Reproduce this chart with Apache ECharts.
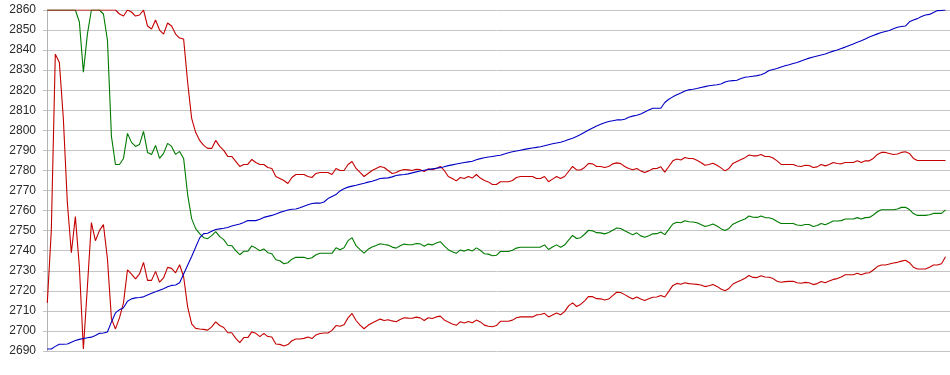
<!DOCTYPE html>
<html><head><meta charset="utf-8">
<script src="https://cdn.jsdelivr.net/npm/echarts@6/dist/echarts.min.js"></script>
<style>html,body{margin:0;padding:0;background:#fff}#c{width:950px;height:375px}</style>
</head><body><div id="c"></div>
<script>
const yMin = 2690, yMax = 2860, yStep = 10;

const blue = [
2691,2691,2692.3,2693.4,2693.4,2693.5,2694.4,2695.2,2695.8,2696.2,
2696.6,2696.9,2697.7,2698.8,2699,2699.5,2704.5,2709,2710.6,2711.6,
2714.8,2716,2716.5,2716.7,2717,2717.9,2718.8,2719.5,2720.3,2721,
2722,2722.7,2722.9,2724,2728.4,2732.8,2737.1,2741.7,2746.4,2748.5,
2748.7,2749.7,2750.6,2750.9,2751.2,2751.6,2752.3,2752.8,2753.3,2754.1,
2755,2755,2755,2755.7,2756.6,2757.1,2757.6,2758.3,2759.1,2759.7,
2760.3,2760.7,2760.8,2761.4,2762.2,2762.9,2763.5,2763.7,2763.7,2764.3,
2766,2767,2768,2769.8,2770.9,2771.7,2772.2,2772.6,2773.1,2773.6,
2774.2,2774.6,2775.3,2776,2776.2,2776.3,2776.8,2777.5,2777.8,2778,
2778.3,2778.8,2779.3,2779.7,2780.1,2780.5,2780.8,2781.1,2781.4,2781.9,
2782.4,2782.8,2783.2,2783.6,2784,2784.3,2784.6,2785.3,2785.9,2786.3,
2786.7,2787,2787.3,2787.6,2788.2,2788.8,2789.3,2789.7,2790.1,2790.5,
2790.9,2791.2,2791.5,2791.8,2792.3,2792.8,2793.3,2793.7,2794.1,2794.7,
2795.4,2796.1,2796.9,2797.9,2799.1,2800.2,2801.2,2802.2,2803,2803.8,
2804.4,2804.8,2805.2,2805.2,2805.5,2806.5,2807.1,2807.5,2808.2,2809.2,
2810.1,2811,2811,2811,2813.9,2815.5,2816.7,2817.7,2818.6,2819.6,
2820.2,2820.5,2820.9,2821.4,2821.8,2822.2,2822.5,2822.7,2823.1,2824.1,
2824.6,2824.8,2825,2825.8,2826.5,2826.7,2827,2827.3,2827.7,2828.6,
2829.8,2830.3,2830.8,2831.6,2832.2,2832.7,2833.3,2833.8,2834.6,2835.3,
2836,2836.6,2837.1,2837.6,2838.1,2838.8,2839.5,2840.1,2840.8,2841.5,
2842.3,2843.1,2843.9,2844.7,2845.6,2846.5,2847.3,2848.1,2848.8,2849.3,
2849.8,2850.6,2851.4,2851.8,2852,2854.1,2855,2855.7,2856.8,2857.5,
2857.8,2858.8,2859.7,2859.8,2860
];

const upperBand = [
2860,2860,2860,2860,2860,2860,2860,2860,2860,2860,
2860,2860,2860,2860,2860,2860,2860,2860,2858,2857,
2860,2859,2857,2857.5,2860,2852,2850.5,2855,2850,2848,
2853.5,2852,2848,2846,2845.5,2824,2806,2799,2795,2792.5,
2791,2791,2795,2792,2790,2787,2787,2784.5,2782,2783,
2783,2785.5,2784,2783,2783,2781.5,2781,2777,2776,2775,
2773.5,2776.5,2778,2778,2778,2777,2776.5,2778.5,2779,2779,
2779,2778,2781,2780,2780,2783,2784.5,2781,2779,2777,
2778.5,2780,2781,2782,2781.5,2780,2778.5,2779,2780,2780.5,
2780.3,2780,2780.6,2780.4,2779.5,2780.8,2780.4,2781,2782,2780,
2777,2776,2774.8,2776.5,2776,2777,2776.2,2778,2776.2,2775,
2774.3,2773,2773,2774.4,2774.4,2774.4,2775,2776.5,2777,2777,
2777,2777,2776,2776,2777,2774.4,2775.7,2777,2776,2777,
2779.5,2782,2780.3,2780.2,2781.5,2783.5,2783.3,2782,2782,2781.5,
2782,2783.3,2783.8,2783.4,2782,2781,2780.4,2781,2779.8,2779,
2779.8,2780.9,2781,2781.8,2779.2,2782,2784.8,2785.7,2785.2,2786.5,
2786,2786,2785.1,2784,2782.6,2783,2783.6,2782.6,2781.3,2779.8,
2781,2783.5,2784.5,2785.5,2786.4,2787.7,2787.3,2787.3,2788,2787,
2787,2786.2,2784.8,2783,2783,2783,2783,2782.2,2782,2782.6,
2782.5,2781.5,2781.8,2783,2782.3,2783,2784,2783.5,2783.3,2784,
2784,2784,2784.8,2784,2784.8,2784.8,2786,2788,2789,2789,
2788.5,2788,2788.2,2789,2789.3,2788.5,2786,2785,2785,2785,
2785,2785,2785,2785,2785
];

const middleBand = [
2860,2860,2860,2860,2860,2860,2860,2860,2854,2829,
2848,2860,2860,2860,2858,2845,2797,2783,2783,2786,
2798.5,2794,2792,2793,2799.5,2789,2788,2792.5,2786,2788.5,
2793.5,2792,2788,2789.5,2786,2768,2756,2751,2748.5,2746.5,
2746,2747.5,2749.5,2747,2745.5,2742.7,2742.5,2740,2738,2739.7,
2739.7,2742.4,2741.3,2740,2740.9,2739,2738.5,2735.5,2735,2733.5,
2734,2735.8,2736.7,2736.7,2736.7,2736,2736.5,2738,2738.7,2738.7,
2738.7,2738.7,2741.5,2740.5,2741.5,2745,2746.5,2742.5,2740.5,2738.8,
2740.7,2741.8,2742.6,2743.5,2743.1,2742.8,2741.8,2741.3,2742.5,2743.3,
2743,2743,2743.6,2743.4,2742.2,2743.3,2742.9,2743.8,2744.5,2742.4,
2740.5,2739.5,2738.7,2740.4,2739.8,2740.6,2739.9,2741.4,2740.2,2738.5,
2738.3,2737.5,2737.7,2739.6,2739.6,2739.6,2740.2,2741.3,2741.7,2741.7,
2741.7,2741.7,2741.7,2741.8,2742.9,2740.6,2741.8,2742.9,2741.7,2742.8,
2745.3,2747.6,2746.1,2746.5,2748.2,2750.2,2749.9,2749,2748.9,2748.4,
2749.1,2750.2,2751.3,2751.1,2750,2749,2747.9,2748.9,2747.4,2746.7,
2747.5,2748.4,2748.5,2749.3,2748,2750.6,2753.3,2754.2,2753.9,2754.9,
2754.4,2754.3,2753.9,2753.1,2752.1,2752.6,2753.3,2752.3,2751,2750.1,
2751.1,2753.2,2754.2,2755.1,2755.8,2757.3,2756.7,2756.6,2757.3,2756.5,
2756.4,2755.8,2754.6,2753.6,2753.6,2753.6,2753.6,2752.8,2752.6,2753.1,
2753.1,2752.1,2752.6,2753.6,2752.9,2753.8,2754.8,2754.8,2755,2755.8,
2755.8,2755.8,2756.5,2755.8,2756.5,2756.6,2757.8,2759.4,2760.4,2760.4,
2760.4,2760.4,2760.8,2761.6,2761.7,2760.5,2758.5,2757.6,2757.6,2757.6,
2757.9,2758.6,2758.6,2758.6,2760.4
];

const lowerBand = [
2714,2750,2838,2834,2806,2764,2739,2757,2732,2691,
2722,2754,2745,2750,2753,2736,2706,2701,2706.5,2714,
2730.5,2728.3,2726,2728.4,2734.2,2725.2,2725.2,2729.7,2724.3,2726.4,
2731.7,2731.2,2729,2733,2727,2712,2703.5,2701.3,2701,2700.8,
2700.4,2702,2704.5,2702.7,2701.7,2699.1,2699.1,2696.3,2694.2,2696.7,
2696.7,2699.5,2698.8,2697.2,2698.8,2697.2,2697,2693.5,2693.3,2692.5,
2693.2,2695.1,2696,2696,2696.3,2697,2696.2,2698,2698.7,2699,
2699,2700.3,2702.7,2702.3,2703.1,2706.5,2708.7,2705.2,2702.9,2701.1,
2702.8,2704,2705,2705.9,2705.2,2705.6,2705,2704.6,2705.7,2706.6,
2706.4,2706.3,2706.9,2706.5,2705.2,2706.6,2706.2,2707,2707.4,2705.5,
2704.4,2703.5,2702.8,2704.6,2704,2704.7,2704.1,2705.4,2704.5,2702.9,
2702.3,2702.1,2702.7,2704.8,2704.8,2704.8,2705.4,2706.6,2707,2707,
2707,2707,2708,2708.2,2708.8,2707,2708,2708.9,2708.1,2709.6,
2712.5,2714,2712.2,2713.2,2715,2717.2,2717.1,2716.1,2716,2715.4,
2715.9,2717.6,2719.3,2719.2,2718.1,2716.9,2715.9,2716.9,2715.9,2715.2,
2716,2716.8,2716.9,2717.7,2716.9,2719.7,2722.7,2723.7,2723.3,2724,
2723.6,2723.4,2723.2,2722.9,2722.1,2722.5,2723.2,2722.2,2720.9,2720,
2721.2,2723.4,2724.4,2725.3,2726.3,2727.6,2726.7,2726.6,2727.5,2726.9,
2726.8,2726.1,2724.8,2724.3,2724.6,2724.7,2724.8,2724,2723.8,2724.2,
2724,2723.1,2723.6,2724.6,2724,2724.9,2725.7,2726.1,2726.9,2728,
2728,2728,2728.8,2728,2728.8,2729,2730.4,2732.1,2732.9,2732.9,
2733.4,2733.9,2734.2,2734.8,2735.2,2734,2731.8,2730.9,2730.9,2730.9,
2731.8,2732.9,2732.9,2733.5,2737
];

const idx = blue.map((_, i) => i);
const toPairs = arr => arr.map((v, i) => [idx[i], v]);

const chart = echarts.init(document.getElementById('c'), null, {renderer: 'canvas'});
function lineSeries(name, arr, color) {
  return {
    name: name, type: 'line', data: toPairs(arr), showSymbol: false, symbol: 'none',
    lineStyle: {color: color, width: 1.1}, itemStyle: {color: color},
    clip: true, silent: true
  };
}
chart.setOption({
  animation: false,
  grid: {left: 43, right: 0, top: 10, bottom: 24, containLabel: false},
  xAxis: {
    type: 'value', min: -1.07, max: 225.12,
    axisLine: {show: false}, axisTick: {show: false},
    axisLabel: {show: false}, splitLine: {show: false}
  },
  yAxis: {
    type: 'value', min: yMin, max: yMax, interval: yStep,
    axisLine: {show: true, lineStyle: {color: '#b4b4b4', width: 1}},
    axisTick: {show: false},
    axisLabel: {
      color: '#2a2a2a', fontFamily: 'Liberation Sans, Arial, sans-serif', fontSize: 12, margin: 7,
      formatter: v => String(v)
    },
    splitLine: {show: true, lineStyle: {color: '#c4c4c4', width: 1}}
  },
  series: [
    lineSeries('middle', middleBand, '#007a00'),
    lineSeries('lower', lowerBand, '#c40000'),
    lineSeries('upper', upperBand, '#c40000'),
    lineSeries('price', blue, '#0000c4')
  ]
});
</script>
</body></html>
